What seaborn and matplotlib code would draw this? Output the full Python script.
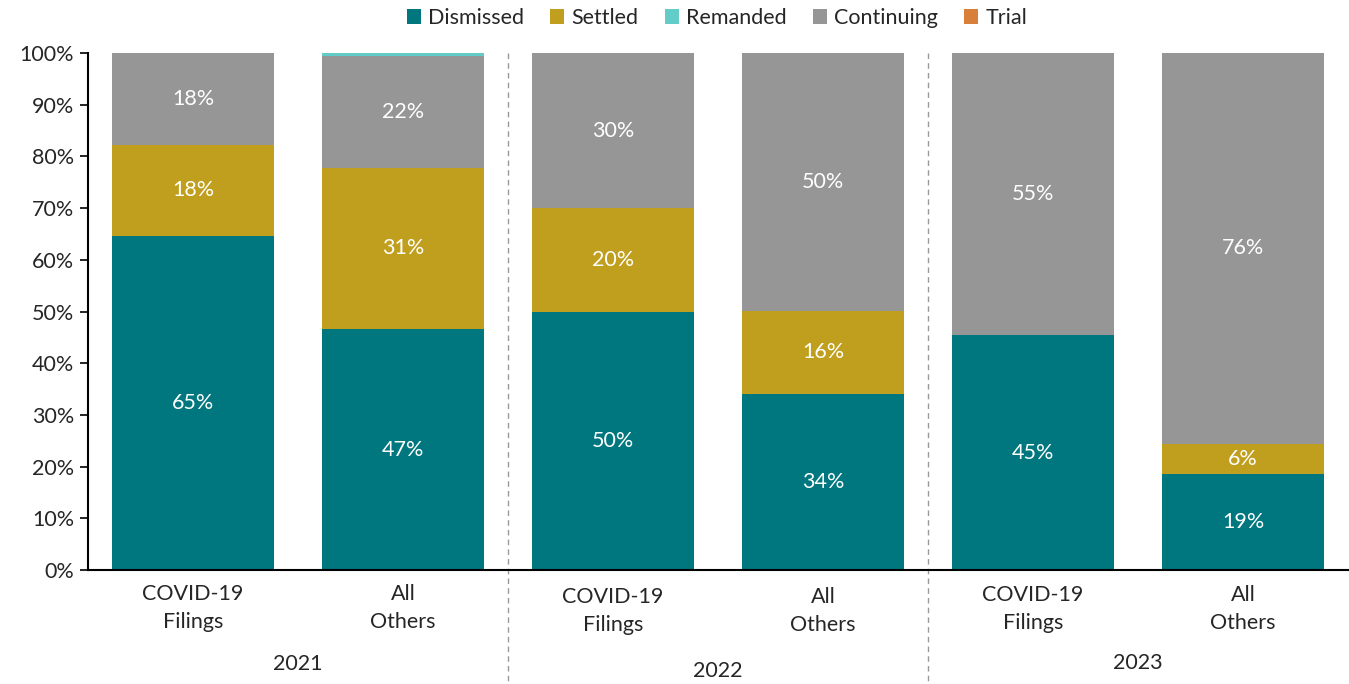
import matplotlib
matplotlib.use("Agg")
import matplotlib.pyplot as plt
import matplotlib.transforms as mtransforms
from matplotlib.patches import Patch
import seaborn as sns
import pandas as pd
import numpy as np

years = ["2021", "2021", "2022", "2022", "2023", "2023"]
groups = ["COVID-19\nFilings", "All\nOthers", "COVID-19\nFilings", "All\nOthers", "COVID-19\nFilings", "All\nOthers"]
year_labels = ["2021", "2022", "2023"]
series = ["Dismissed", "Settled", "Remanded", "Continuing", "Trial"]
stack_order = ["Dismissed", "Settled", "Continuing", "Remanded", "Trial"]
dismissed = [64.7, 46.6, 50.0, 34.1, 45.4, 18.6]
settled = [17.6, 31.2, 20.0, 16.0, 0.0, 5.8]
remanded = [0.0, 0.6, 0.0, 0.0, 0.0, 0.0]
continuing = [17.7, 21.6, 30.0, 49.9, 54.6, 75.6]
trial = [0.0, 0.0, 0.0, 0.0, 0.0, 0.0]

colors = {"Dismissed": "#00777F", "Settled": "#C19F1E", "Remanded": "#62CDC8",
          "Continuing": "#969696", "Trial": "#D8803A"}

sns.set_style("white")
plt.rcParams["font.family"] = ["Lato", "DejaVu Sans"]
FS = 15.5

values = {"Dismissed": dismissed, "Settled": settled, "Remanded": remanded,
          "Continuing": continuing, "Trial": trial}
bar_ids = list(range(len(groups)))
df = pd.DataFrame({"bar": bar_ids})
cum = np.zeros(len(groups))
for s in stack_order:
    cum = cum + np.array(values[s])
    df[s] = cum.copy()

fig = plt.figure(figsize=(13.49, 6.84), dpi=100)
ax = fig.add_axes([88 / 1349, (684 - 570) / 684, 1260 / 1349, 517 / 684])

for s in reversed(stack_order):
    sns.barplot(data=df, x="bar", y=s, color=colors[s], width=0.77, ax=ax,
                saturation=1, order=bar_ids, linewidth=0, edgecolor="none")

# labels
bottoms = np.zeros(len(groups))
for s in stack_order:
    v = np.array(values[s])
    for i in range(len(groups)):
        if v[i] >= 3:
            ax.text(i, bottoms[i] + v[i] / 2, f"{v[i]:.0f}%", ha="center", va="center",
                    color="white", fontsize=FS)
    bottoms = bottoms + v

ax.set_xlim(-0.5, len(groups) - 0.5)
ax.set_ylim(0, 100)
ax.set_yticks(np.arange(0, 101, 10))
ax.set_yticklabels([f"{t}%" for t in range(0, 101, 10)], fontsize=FS)
ax.tick_params(axis="y", which="both", left=True, length=6, width=1.2, color="black", pad=4)
ax.set_xticks(bar_ids)
ax.set_xticklabels([])
ax.tick_params(axis="x", length=0)
ax.set_xlabel("")
ax.set_ylabel("")
for sp in ["top", "right"]:
    ax.spines[sp].set_visible(False)
ax.spines["left"].set_linewidth(1.5)
ax.spines["bottom"].set_linewidth(1.5)
ax.spines["left"].set_color("black")
ax.spines["bottom"].set_color("black")

# category labels (staggered per year like reference)
trans = mtransforms.blended_transform_factory(ax.transData, fig.transFigure)
cat_y = {"2021": 1 - 608 / 684, "2022": 1 - 611 / 684, "2023": 1 - 609 / 684}
year_y = {"2021": 1 - 664 / 684, "2022": 1 - 671 / 684, "2023": 1 - 663 / 684}
for i, g in enumerate(groups):
    ax.text(i, cat_y[years[i]], g, transform=trans, ha="center", va="center",
            fontsize=FS, linespacing=1.55)
for k, y in enumerate(year_labels):
    ax.text(2 * k + 0.5, year_y[y], y, transform=trans, ha="center", va="center", fontsize=FS)

for xs in [1.5, 3.5]:
    ax.plot([xs, xs], [1 - 53 / 684, 0.0], transform=trans, color="#999999",
            linestyle=(0, (4, 3)), linewidth=1.0, clip_on=False)

handles = [Patch(facecolor=colors[s], edgecolor="none", label=s) for s in series]
fig.legend(handles=handles, loc="center", bbox_to_anchor=(717 / 1349, 1 - 18 / 684), ncol=5,
           frameon=False, fontsize=FS, handlelength=0.65, handleheight=0.65,
           handletextpad=0.35, columnspacing=1.2)

fig.savefig("out.png", dpi=100)
